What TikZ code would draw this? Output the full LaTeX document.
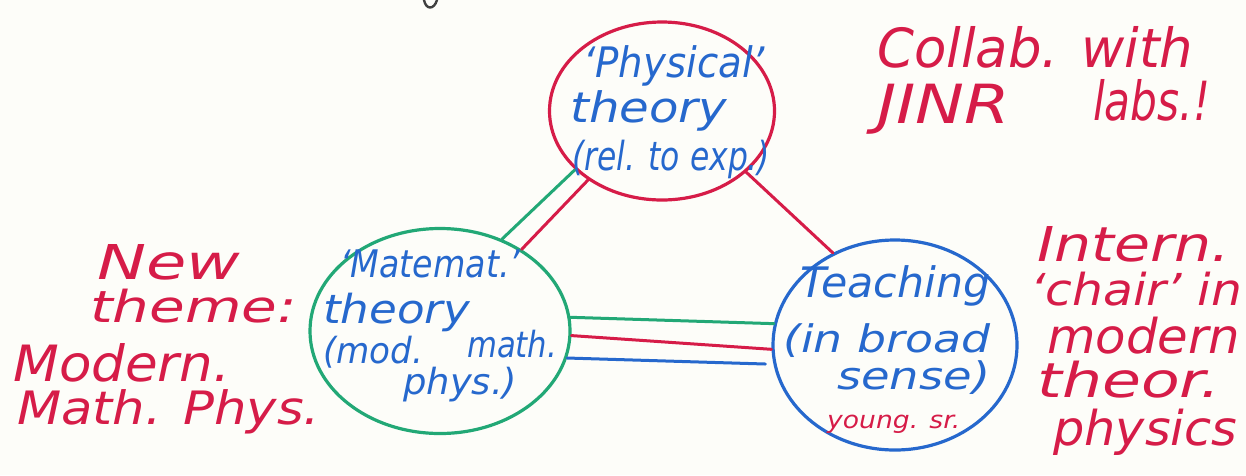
\documentclass[tikz,border=0pt]{standalone}
\usepackage{fontspec}
\setmainfont{DejaVu Sans}
\usetikzlibrary{shapes.geometric}
\definecolor{inkred}{RGB}{214,28,72}
\definecolor{inkblue}{RGB}{38,104,205}
\definecolor{inkgreen}{RGB}{34,168,118}
\definecolor{paper}{RGB}{253,253,249}
\newcommand{\hw}[2]{\resizebox{#1pt}{\height}{#2}}
\begin{document}
\begin{tikzpicture}[x=1pt,y=-1pt,
  ring/.style={draw, ellipse, line width=3.2pt, inner sep=0pt},
  wire/.style={line width=3pt, line cap=round},
  txt/.style={inner sep=0pt, anchor=base west},
  sz/.style={font=\fontsize{#1}{#1}\selectfont\itshape}]
\fill[paper] (0,0) rectangle (1246,475);
\useasboundingbox (0,0) rectangle (1246,475);

% fragment of a cut-off letter at the top edge
\draw[black!75, line width=2.4pt, line cap=round] (424,0) .. controls (426,10) and (434,10) .. (437,0);

% circles
\node[ring, draw=inkred, minimum width=225pt, minimum height=178pt] (phys) at (662,111) {};
\node[ring, draw=inkgreen, minimum width=260pt, minimum height=205pt] (mat) at (440,331) {};
\node[ring, draw=inkblue, minimum width=244pt, minimum height=210pt] (teach) at (895,345) {};

% connectors
\draw[wire, inkgreen] (phys.214) -- (mat.56);
\draw[wire, inkred] (phys.223) -- (mat.45);
\draw[wire, inkred] (phys.324) -- (teach.124);
\draw[wire, inkgreen] (mat.6) -- (teach.170);
\draw[wire, inkred] (mat.358) -- (teach.182);
\draw[wire, inkblue, shorten >=8pt] (mat.348) -- (teach.189);

% Physical theory
\node[txt, sz=42, inkblue] (p1) at (583,77) {\hw{182}{‘Physical’}};
\node[txt, sz=42, inkblue] (p2) at (570,122) {\hw{157}{theory}};
\node[txt, sz=40, inkblue] (p3) at (572,170) {\hw{198}{(rel. to exp.)}};

% Matemat theory
\node[txt, sz=38, inkblue] (m1) at (340,277) {\hw{180}{‘Matemat.’}};
\node[txt, sz=40, inkblue] (m2) at (323,323) {\hw{147}{theory}};
\node[txt, sz=36, inkblue] (m3) at (323,363) {\hw{100}{(mod.}};
\node[txt, sz=36, inkblue] (m4) at (467,357) {\hw{90}{math.}};
\node[txt, sz=36, inkblue] (m5) at (403,394) {\hw{114}{phys.)}};

% Teaching
\node[txt, sz=42, inkblue] (t1) at (800,297) {\hw{190}{Teaching}};
\node[txt, sz=38, inkblue] (t2) at (783,352) {\hw{207}{(in broad}};
\node[txt, sz=38, inkblue] (t3) at (837,389) {\hw{153}{sense)}};
\node[txt, sz=24, inkred] (t4) at (827,428) {\hw{133}{young. sr.}};

% left note
\node[txt, sz=48, inkred] (l1) at (97,279) {\hw{143}{New}};
\node[txt, sz=44, inkred] (l2) at (90,322) {\hw{207}{theme:}};
\node[txt, sz=50, inkred] (l3) at (13,381) {\hw{217}{Modern.}};
\node[txt, sz=46, inkred] (l4) at (17,424) {\hw{303}{Math. Phys.}};

% right note
\node[txt, sz=48, inkred] (r1) at (1037,261) {\hw{193}{Intern.}};
\node[txt, sz=44, inkred] (r2) at (1030,305) {\hw{212}{‘chair’ in}};
\node[txt, sz=48, inkred] (r3) at (1047,353) {\hw{193}{modern}};
\node[txt, sz=48, inkred] (r4) at (1037,397) {\hw{183}{theor.}};
\node[txt, sz=48, inkred] (r5) at (1053,445) {\hw{184}{physics}};

% top right note
\node[txt, sz=54, inkred] (c1) at (877,67) {\hw{316}{Collab. with}};
\node[txt, sz=54, inkred] (c2) at (877,123) {\hw{133}{JINR}};
\node[txt, sz=54, inkred] (c3) at (1093,120) {\hw{117}{labs.!}};
\end{tikzpicture}
\end{document}
